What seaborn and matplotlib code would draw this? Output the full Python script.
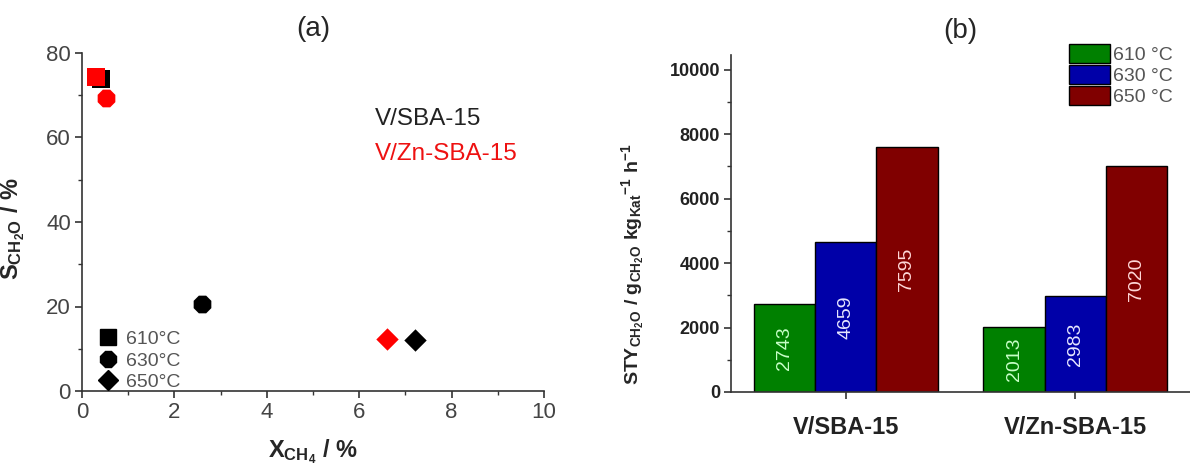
import matplotlib
matplotlib.use("Agg")
import matplotlib.pyplot as plt
from matplotlib.lines import Line2D
from matplotlib.patches import Patch
import seaborn as sns
import pandas as pd

# ---------------- data ----------------
# panel (a): conversion X_CH4 (%) vs selectivity S_CH2O (%)
catalyst_a = ["V/SBA-15", "V/SBA-15", "V/SBA-15",
              "V/Zn-SBA-15", "V/Zn-SBA-15", "V/Zn-SBA-15"]
temp_a = ["610°C", "630°C", "650°C", "610°C", "630°C", "650°C"]
x_conv = [0.41, 2.6, 7.2, 0.31, 0.53, 6.6]
s_sel = [73.8, 20.5, 12.1, 74.4, 69.3, 12.3]

# panel (b): space-time yield
catalysts_b = ["V/SBA-15", "V/Zn-SBA-15"]
temps_b = ["610 °C", "630 °C", "650 °C"]
sty_610 = [2743, 2013]
sty_630 = [4659, 2983]
sty_650 = [7595, 7020]

# ---------------- style ----------------
sns.set_theme(style="white")
plt.rcParams["font.family"] = ["Liberation Sans", "DejaVu Sans"]
plt.rcParams["mathtext.fontset"] = "custom"
plt.rcParams["mathtext.rm"] = "Liberation Sans:bold"
plt.rcParams["mathtext.bf"] = "Liberation Sans:bold"
plt.rcParams["mathtext.it"] = "Liberation Sans:bold"

fig = plt.figure(figsize=(11.9, 4.66), dpi=100)
axa = fig.add_axes([82 / 1190, 1 - 391 / 466, 462 / 1190, 338 / 466])
axb = fig.add_axes([731 / 1190, 1 - 392 / 466, 459 / 1190, 337 / 466])

axis_col = "#333333"
tick_col = "#444444"

# ---------------- panel (a) ----------------
df_a = pd.DataFrame({"cat": catalyst_a, "temp": temp_a, "x": x_conv, "s": s_sel})
markers = {"610°C": "s", "630°C": "8", "650°C": "D"}
sizes_m = {"610°C": 150, "630°C": 190, "650°C": 130}
pal = {"V/SBA-15": "black", "V/Zn-SBA-15": "#ff0000"}
for cat in ["V/SBA-15", "V/Zn-SBA-15"]:
    for t in ["610°C", "630°C", "650°C"]:
        sub = df_a[(df_a.cat == cat) & (df_a.temp == t)]
        sns.scatterplot(data=sub, x="x", y="s", ax=axa, color=pal[cat],
                        marker=markers[t], s=sizes_m[t], linewidth=0,
                        legend=False, zorder=3)

axa.set_xlim(0, 10)
axa.set_ylim(0, 80)
axa.set_xticks([0, 2, 4, 6, 8, 10])
axa.set_yticks([0, 20, 40, 60, 80])
axa.set_xticks(range(0, 11), minor=True)
axa.set_yticks(range(0, 81, 10), minor=True)
for sp in ["top", "right"]:
    axa.spines[sp].set_visible(False)
for sp in ["left", "bottom"]:
    axa.spines[sp].set_color(axis_col)
    axa.spines[sp].set_linewidth(1.2)
axa.tick_params(which="major", direction="out", length=5, width=1.2,
                color=axis_col, labelsize=16, labelcolor=tick_col, pad=3,
                left=True, bottom=True)
axa.tick_params(which="minor", direction="out", length=3, width=1.0,
                color=axis_col, left=True, bottom=True)
axa.set_xlabel(r"X$_{\mathbf{CH_4}}$ / %", fontsize=17, fontweight="bold",
               labelpad=10)
axa.set_ylabel(r"S$_{\mathbf{CH_2O}}$ / %", fontsize=17, fontweight="bold")
axa.yaxis.set_label_coords(-0.12, 0.48)
axa.set_title("(a)", fontsize=20, pad=12)

axa.text(6.35, 64.3, "V/SBA-15", fontsize=17.5, color="#222222", va="center")
axa.text(6.35, 56.0, "V/Zn-SBA-15", fontsize=17.5, color="#ee1111", va="center")

leg_handles = [
    Line2D([], [], marker="s", color="black", linestyle="none", markersize=11),
    Line2D([], [], marker="8", color="black", linestyle="none", markersize=12.5),
    Line2D([], [], marker="D", color="black", linestyle="none", markersize=10),
]
leg_a = axa.legend(leg_handles, ["610°C", "630°C", "650°C"], loc="lower left",
                   bbox_to_anchor=(0.03, 0.0), frameon=False, fontsize=14,
                   labelcolor="#555555", handlelength=1.2, handletextpad=0.35,
                   labelspacing=0.2, borderpad=0, borderaxespad=0)

# ---------------- panel (b) ----------------
df_b = pd.DataFrame({
    "cat": catalysts_b * 3,
    "temp": [temps_b[0]] * 2 + [temps_b[1]] * 2 + [temps_b[2]] * 2,
    "sty": sty_610 + sty_630 + sty_650,
})
bar_cols = ["#008000", "#0000a8", "#800000"]
lab_cols = ["#c8ffc8", "#e6e6ff", "#ffd8d8"]
sns.barplot(data=df_b, x="cat", y="sty", hue="temp", order=catalysts_b,
            hue_order=temps_b, palette=bar_cols, width=0.8, ax=axb,
            edgecolor="black", linewidth=1.0, saturation=1, legend=False,
            errorbar=None)
for cont, lc in zip(axb.containers, lab_cols):
    axb.bar_label(cont, labels=[f"{int(v)}" for v in cont.datavalues],
                  label_type="center", rotation=90, color=lc, fontsize=14)

axb.set_xlim(-0.5, 1.5)
axb.set_ylim(0, 10450)
axb.set_yticks(range(0, 10001, 2000))
axb.set_yticks(range(0, 10001, 1000), minor=True)
for sp in ["top", "right"]:
    axb.spines[sp].set_visible(False)
for sp in ["left", "bottom"]:
    axb.spines[sp].set_color(axis_col)
    axb.spines[sp].set_linewidth(1.2)
axb.tick_params(which="major", direction="out", length=5, width=1.2,
                color=axis_col, left=True, bottom=True, pad=3)
axb.tick_params(which="minor", direction="out", length=3, width=1.0,
                color=axis_col, left=True, bottom=False)
axb.tick_params(axis="y", labelsize=13)
axb.tick_params(axis="x", labelsize=17, pad=12)
for lab in axb.get_yticklabels() + axb.get_xticklabels():
    lab.set_fontweight("bold")
    lab.set_color("#222222")
axb.set_xlabel("")
axb.set_ylabel(r"STY$_{\mathbf{CH_2O}}$ / g$_{\mathbf{CH_2O}}$ kg$_{\mathbf{Kat}}$$^{\mathbf{-1}}$ h$^{\mathbf{-1}}$",
               fontsize=14, fontweight="bold")
axb.yaxis.set_label_coords(-0.185, 0.38)
axb.set_title("(b)", fontsize=20, pad=12)

leg_b_handles = [Patch(facecolor=c, edgecolor="black", linewidth=1.0)
                 for c in bar_cols]
axb.legend(leg_b_handles, temps_b, loc="upper left",
           bbox_to_anchor=(1069 / 1190, 1 - 44 / 466),
           bbox_transform=fig.transFigure, frameon=False, fontsize=14,
           labelcolor="#555555", handlelength=2.1, handleheight=1.1,
           handletextpad=0.15, labelspacing=0.05, borderpad=0, borderaxespad=0)

fig.savefig("out.png", dpi=100)
